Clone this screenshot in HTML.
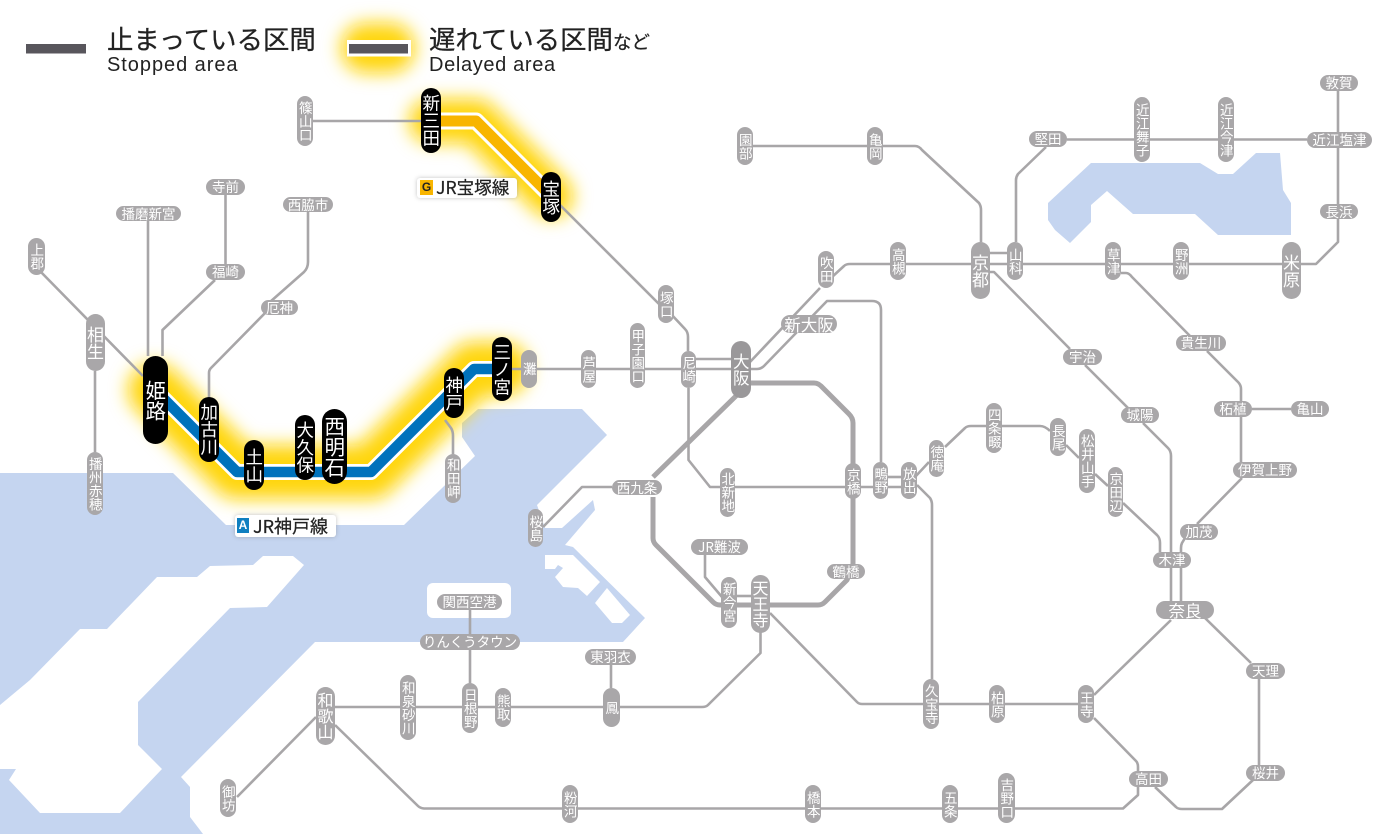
<!DOCTYPE html>
<html lang="ja"><head><meta charset="utf-8">
<style>
html,body{margin:0;padding:0;background:#fff}
#m{position:relative;width:1400px;height:834px;overflow:hidden;background:#fff;font-family:"Noto Sans CJK JP","Liberation Sans",sans-serif}
svg{position:absolute;left:0;top:0}
.p{position:absolute;display:flex;align-items:center;justify-content:center;background:#a9a7a9;color:#fff;border-radius:30px;font-size:13.5px;line-height:1;white-space:nowrap;overflow:hidden;font-family:"Noto Sans CJK JP",sans-serif}
.v{writing-mode:vertical-rl;text-orientation:upright}
.k{background:#000;font-size:17.5px}
.t{position:absolute;color:#222;white-space:nowrap;line-height:1;-webkit-text-stroke:.25px #222}
.l{font-family:"Liberation Sans",sans-serif;-webkit-text-stroke:0}
.b{position:absolute;background:#fff;border-radius:3px;box-shadow:0 0 4px rgba(120,120,120,.45)}
.i{position:absolute;color:#fff;font-weight:bold;font-size:12px;line-height:15px;text-align:center;font-family:"Liberation Sans",sans-serif}
</style></head><body><div id="m">
<svg width="1400" height="834" viewBox="0 0 1400 834">
<defs><filter id="g" filterUnits="userSpaceOnUse" x="0" y="0" width="1400" height="834"><feGaussianBlur stdDeviation="9"/></filter></defs>
<polygon fill="#c5d5f0" points="1091,163 1200,163 1218,174 1233,174 1256,153 1280,153 1283,190 1291,203 1291,235 1218,235 1195,214 1133,214 1107,191 1091,205 1091,222 1070,243 1055,230 1048,220 1048,203"/>
<polygon fill="#c5d5f0" points="0,473 173,473 226,525 404,525 475,456 462,437 462,423 478,409 582,409 607,435 537,505 545,528 562,528 593,500 595,510 565,545 573,547 645,618 623,642 315,642 181,777 190,787 190,817 203,834 0,834"/>
<polygon fill="#fff" points="30,680 80,629 107,629 157,577 197,577 210,566 253,565 263,556 293,556 304,565 267,607 230,608 138,702 138,745 162,769 120,813 40,813 9,780 16,769 0,769 0,705"/>
<polygon fill="#fff" points="545,555 573,555 600,582 587,596 578,588 563,587 555,577 563,568 558,565 555,569 545,569"/>
<polygon fill="#fff" points="595,603 607,588 630,615 622,623 612,623"/>
<rect x="427" y="583" width="84" height="35" rx="6" fill="#fff"/>
<g fill="none" stroke="#ffd60a" stroke-linecap="round" stroke-linejoin="round" filter="url(#g)">
<path d="M366 48H390" stroke-width="50"/>
<path d="M431 121H476L551 196" stroke-width="44"/>
<path d="M155 390L237 472H371L474 369H502" stroke-width="54"/>
</g>
<g fill="none" stroke="#a8a6a8" stroke-width="2.6" stroke-linejoin="round">
<path d="M305 121H431"/>
<path d="M551 196L660 305"/>
<path d="M37 268L143 376"/>
<path d="M95 371V452"/>
<path d="M148 221V356"/>
<path d="M225.500 195V264"/>
<path d="M215 280L162.500 330V356"/>
<path d="M308 212V262Q308 268 304 272L270 302"/>
<path d="M268 310L211 368Q209 370 209 373V397"/>
<path d="M445 420L451 428Q453 431 453 436V454"/>
<path d="M512 369H731"/>
<path d="M696 359H731"/>
<path d="M670 313L685 329Q688 332 688 337V351"/>
<path d="M688.500 388V460L710 487H909"/>
<path d="M888 477H901"/>
<path d="M750 362L820 288"/>
<path d="M832 277L844 266Q846 264 850 264H1316L1338 242V91"/>
<path d="M751 369H757Q761 369 764 366L827 301H872Q881 301 881 310V462"/>
<path d="M543 527L582 487H612"/>
<path d="M705 555V577L722 597"/>
<path d="M737 596H751"/>
<path d="M770 613L857 702Q859 704 862 704H1078"/>
<path d="M760.500 632V653L708 705Q706 707 702 707H335"/>
<path d="M316 717L237 797"/>
<path d="M335 725L418 806Q420 808 424 808.500H1123L1138 795V787"/>
<path d="M1094 718L1136 761Q1138 763 1138 767V771"/>
<path d="M1155 787L1176 807Q1178 809 1182 809H1222L1253 780"/>
<path d="M1259 679V765"/>
<path d="M1205 618L1251 663"/>
<path d="M1171 620L1094 695"/>
<path d="M470 610V683"/>
<path d="M611 665V688"/>
<path d="M917 485L930 498Q932 501 932 505V679"/>
<path d="M915 477L929 462M945 447L965 428Q967 426 971 426H1040Q1045 426 1050 431"/>
<path d="M1066 445L1079 458M1095 474L1108 486M1123 503L1157 535Q1160 538 1160 543V552"/>
<path d="M1171 568V601M1181 568V601"/>
<path d="M1143 423L1168 448Q1171 451 1171 456V552"/>
<path d="M1085 365L1128 408"/>
<path d="M990 272H994L1070 349"/>
<path d="M1121 273H1126Q1129 273 1132 277L1191 337"/>
<path d="M1207 351L1238 382Q1241 385 1241 389V462"/>
<path d="M1252 409H1291"/>
<path d="M1242 478L1197 524"/>
<path d="M1185 538L1182 543Q1181 545 1181 548V552"/>
<path d="M990 253H1007"/>
<path d="M753 146H915Q919 146 922 150L979 203Q981 206 981 210V242"/>
<path d="M1067 139.500H1307"/>
<path d="M1046 147L1018 174Q1016 177 1016 180V242"/>
</g>
<path d="M750 383H814Q818 383 821 386L849 414Q853 418 853 423V564L847 580L825 602Q822 605 818 605H720Q716 605 713 602L656 545Q653 542 653 538V497M653 477L737 395" fill="none" stroke="#a8a6a8" stroke-width="5" stroke-linejoin="round"/>
<g fill="none" stroke-linejoin="round">
<path d="M431 121H476L551 196" stroke="#fff" stroke-width="17"/>
<path d="M431 121H476L551 196" stroke="#f8b500" stroke-width="11"/>
<path d="M155 390L237 472H371L474 369H502" stroke="#fff" stroke-width="16"/>
<path d="M155 390L237 472H371L474 369H502" stroke="#0072bc" stroke-width="10.500"/>
</g>
<rect x="26" y="44" width="60" height="9.500" fill="#58565c"/>
<rect x="347" y="40" width="64" height="16.500" fill="#fff"/>
<rect x="349" y="44" width="59" height="9.500" fill="#58565c"/>
</svg>

<div class="t" style="left:107px;top:25px;font-size:26.400px">止まっている区間</div>
<div class="t l" style="left:107px;top:55px;font-size:20px;letter-spacing:.95px">Stopped area</div>
<div class="t" style="left:429px;top:25px;font-size:26.400px">遅れている区間<span style="font-size:18.500px">など</span></div>
<div class="t l" style="left:429px;top:55px;font-size:20px;letter-spacing:.65px">Delayed area</div>

<div class="b" style="left:417px;top:178px;width:100px;height:20px"></div>
<div class="i" style="left:420px;top:180px;width:13px;height:15px;background:#f8b500;color:#222">G</div>
<div class="t" style="left:436px;top:179px;font-size:17.500px;letter-spacing:.1px">JR宝塚線</div>
<div class="b" style="left:235px;top:515px;width:101px;height:22px"></div>
<div class="i" style="left:237px;top:518px;width:12px;height:15px;background:#0f7fc0">A</div>
<div class="t" style="left:253px;top:517px;font-size:18px">JR神戸線</div>

<div class="p v" style="left:297px;top:96px;width:16px;height:50px">篠山口</div>
<div class="p v k" style="left:421px;top:88px;width:20px;height:65px">新三田</div>
<div class="p v k" style="left:541px;top:172px;width:20px;height:50px">宝塚</div>
<div class="p" style="left:206px;top:179px;width:39px;height:16px">寺前</div>
<div class="p" style="left:116px;top:206px;width:65px;height:15px">播磨新宮</div>
<div class="p" style="left:283px;top:197px;width:50px;height:15px">西脇市</div>
<div class="p v" style="left:28px;top:238px;width:17px;height:37px">上郡</div>
<div class="p" style="left:206px;top:264px;width:39px;height:16px">福崎</div>
<div class="p" style="left:261px;top:300px;width:37px;height:15px">厄神</div>
<div class="p v" style="left:86px;top:314px;width:19px;height:57px;font-size:17px">相生</div>
<div class="p v k" style="left:143px;top:356px;width:25px;height:88px;font-size:20.500px">姫路</div>
<div class="p v k" style="left:199px;top:397px;width:20px;height:65px">加古川</div>
<div class="p v k" style="left:244px;top:440px;width:20px;height:50px">土山</div>
<div class="p v k" style="left:295px;top:415px;width:20px;height:65px">大久保</div>
<div class="p v k" style="left:322px;top:409px;width:25px;height:75px;font-size:20.500px">西明石</div>
<div class="p v k" style="left:444px;top:368px;width:20px;height:50px">神戸</div>
<div class="p v k" style="left:492px;top:337px;width:20px;height:64px">三ノ宮</div>
<div class="p v" style="left:521px;top:350px;width:16px;height:38px">灘</div>
<div class="p v" style="left:87px;top:452px;width:16px;height:63px">播州赤穂</div>
<div class="p v" style="left:445px;top:454px;width:16px;height:49px">和田岬</div>
<div class="p v" style="left:528px;top:509px;width:15px;height:38px">桜島</div>
<div class="p v" style="left:658px;top:285px;width:16px;height:38px">塚口</div>
<div class="p v" style="left:581px;top:350px;width:15px;height:38px">芦屋</div>
<div class="p v" style="left:630px;top:323px;width:15px;height:65px">甲子園口</div>
<div class="p v" style="left:681px;top:351px;width:15px;height:37px">尼崎</div>
<div class="p v" style="left:731px;top:341px;width:20px;height:57px;font-size:16.500px;background:#9a989a">大阪</div>
<div class="p" style="left:781px;top:315px;width:56px;height:18px;font-size:16.500px">新大阪</div>
<div class="p" style="left:612px;top:480px;width:50px;height:15px">西九条</div>
<div class="p v" style="left:720px;top:468px;width:15px;height:49px">北新地</div>
<div class="p v" style="left:845px;top:463px;width:16px;height:36px">京橋</div>
<div class="p v" style="left:873px;top:462px;width:15px;height:37px">鴫野</div>
<div class="p v" style="left:901px;top:462px;width:16px;height:37px">放出</div>
<div class="p v" style="left:929px;top:440px;width:15px;height:37px">徳庵</div>
<div class="p" style="left:691px;top:539px;width:57px;height:16px">JR難波</div>
<div class="p" style="left:827px;top:564px;width:38px;height:15px">鶴橋</div>
<div class="p v" style="left:721px;top:577px;width:16px;height:51px">新今宮</div>
<div class="p v" style="left:751px;top:575px;width:19px;height:58px;font-size:16px">天王寺</div>
<div class="p" style="left:1063px;top:349px;width:39px;height:16px">宇治</div>
<div class="p" style="left:1176px;top:335px;width:50px;height:16px">貴生川</div>
<div class="p" style="left:1121px;top:407px;width:38px;height:16px">城陽</div>
<div class="p" style="left:1214px;top:401px;width:38px;height:16px">柘植</div>
<div class="p" style="left:1291px;top:401px;width:38px;height:16px">亀山</div>
<div class="p v" style="left:986px;top:403px;width:16px;height:50px">四条畷</div>
<div class="p v" style="left:1050px;top:418px;width:16px;height:38px">長尾</div>
<div class="p v" style="left:1079px;top:429px;width:16px;height:64px">松井山手</div>
<div class="p v" style="left:1108px;top:467px;width:15px;height:50px">京田辺</div>
<div class="p" style="left:1233px;top:462px;width:64px;height:16px">伊賀上野</div>
<div class="p" style="left:1180px;top:524px;width:38px;height:16px">加茂</div>
<div class="p" style="left:1153px;top:552px;width:38px;height:16px">木津</div>
<div class="p" style="left:1156px;top:601px;width:58px;height:18px;font-size:16.500px">奈良</div>
<div class="p v" style="left:737px;top:127px;width:16px;height:38px">園部</div>
<div class="p v" style="left:867px;top:127px;width:16px;height:38px">亀岡</div>
<div class="p" style="left:1029px;top:131px;width:38px;height:16px">堅田</div>
<div class="p v" style="left:1134px;top:97px;width:16px;height:65px">近江舞子</div>
<div class="p v" style="left:1218px;top:97px;width:16px;height:65px">近江今津</div>
<div class="p" style="left:1320px;top:75px;width:38px;height:16px">敦賀</div>
<div class="p" style="left:1307px;top:132px;width:65px;height:16px">近江塩津</div>
<div class="p" style="left:1320px;top:204px;width:38px;height:15px">長浜</div>
<div class="p v" style="left:818px;top:251px;width:16px;height:37px">吹田</div>
<div class="p v" style="left:890px;top:242px;width:16px;height:38px">高槻</div>
<div class="p v" style="left:971px;top:242px;width:19px;height:57px;font-size:17px">京都</div>
<div class="p v" style="left:1007px;top:242px;width:16px;height:38px">山科</div>
<div class="p v" style="left:1105px;top:242px;width:16px;height:38px">草津</div>
<div class="p v" style="left:1173px;top:242px;width:16px;height:38px">野洲</div>
<div class="p v" style="left:1282px;top:242px;width:19px;height:57px;font-size:17px">米原</div>
<div class="p" style="left:437px;top:594px;width:65px;height:16px">関西空港</div>
<div class="p" style="left:420px;top:634px;width:100px;height:16px">りんくうタウン</div>
<div class="p" style="left:585px;top:649px;width:51px;height:16px">東羽衣</div>
<div class="p v" style="left:316px;top:687px;width:19px;height:58px;font-size:16px">和歌山</div>
<div class="p v" style="left:400px;top:675px;width:16px;height:65px">和泉砂川</div>
<div class="p v" style="left:462px;top:683px;width:16px;height:50px">日根野</div>
<div class="p v" style="left:495px;top:688px;width:16px;height:39px">熊取</div>
<div class="p v" style="left:603px;top:688px;width:17px;height:39px">鳳</div>
<div class="p v" style="left:220px;top:779px;width:16px;height:38px">御坊</div>
<div class="p v" style="left:562px;top:785px;width:16px;height:38px">粉河</div>
<div class="p v" style="left:923px;top:679px;width:16px;height:50px">久宝寺</div>
<div class="p v" style="left:989px;top:685px;width:16px;height:38px">柏原</div>
<div class="p v" style="left:1078px;top:685px;width:16px;height:38px">王寺</div>
<div class="p v" style="left:805px;top:785px;width:16px;height:38px">橋本</div>
<div class="p v" style="left:942px;top:785px;width:16px;height:38px">五条</div>
<div class="p v" style="left:998px;top:773px;width:17px;height:50px">吉野口</div>
<div class="p" style="left:1129px;top:771px;width:39px;height:16px">高田</div>
<div class="p" style="left:1246px;top:663px;width:39px;height:16px">天理</div>
<div class="p" style="left:1246px;top:765px;width:39px;height:16px">桜井</div>
</div></body></html>
